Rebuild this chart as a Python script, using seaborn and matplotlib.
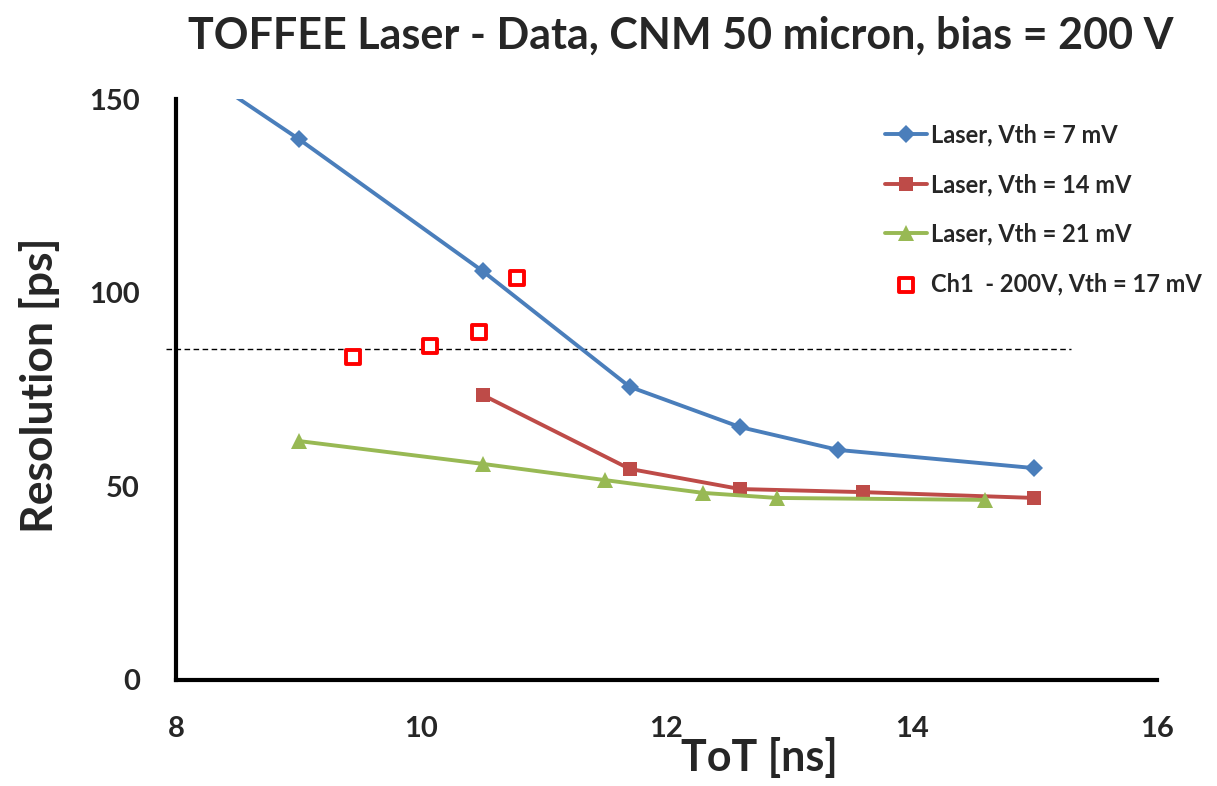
import matplotlib
matplotlib.use("Agg")
import matplotlib.pyplot as plt
import seaborn as sns

# Laser scans: time resolution vs time over threshold
tot_7mv = [8.0, 9.0, 10.5, 11.7, 12.6, 13.4, 15.0]
res_7mv = [161.0, 139.7, 105.6, 75.7, 65.3, 59.4, 54.7]

tot_14mv = [10.5, 11.7, 12.6, 13.6, 15.0]
res_14mv = [73.6, 54.5, 49.3, 48.5, 47.0]

tot_21mv = [9.0, 10.5, 11.5, 12.3, 12.9, 14.6]
res_21mv = [61.7, 55.8, 51.6, 48.3, 47.0, 46.5]

# Channel 1 measurement at 200 V
tot_ch1 = [9.44, 10.07, 10.47, 10.78]
res_ch1 = [83.4, 86.2, 89.9, 103.8]

# Reference resolution level
ref_level = 85.5
ref_span = [7.92, 15.3]

labels = ["Laser, Vth = 7 mV", "Laser, Vth = 14 mV", "Laser, Vth = 21 mV",
          "Ch1  - 200V, Vth = 17 mV"]
x_ticks = [8, 10, 12, 14, 16]
y_ticks = [0, 50, 100, 150]

sns.set_theme(style="white")
plt.rcParams["font.family"] = ["Lato", "DejaVu Sans"]
plt.rcParams["font.weight"] = "bold"

fig = plt.figure(figsize=(12.17, 7.86), dpi=100)
ax = fig.add_axes([0.1446, 0.1349, 0.8061, 0.7391])

blue, red, green = "#4a7ebb", "#be4b48", "#98b954"

sns.lineplot(x=tot_7mv, y=res_7mv, ax=ax, sort=False, color=blue, lw=2.8,
             marker="D", markersize=9, markeredgewidth=0, label=labels[0])
sns.lineplot(x=tot_14mv, y=res_14mv, ax=ax, sort=False, color=red, lw=2.8,
             marker="s", markersize=10, markeredgewidth=0, label=labels[1])
sns.lineplot(x=tot_21mv, y=res_21mv, ax=ax, sort=False, color=green, lw=2.8,
             marker="^", markersize=11, markeredgewidth=0, label=labels[2])
sns.scatterplot(x=tot_ch1, y=res_ch1, ax=ax, marker="s", s=115,
                facecolor="white", edgecolor="#ff0000", linewidth=2.8,
                label=labels[3], zorder=4)

ax.plot(ref_span, [ref_level, ref_level], color="black", lw=1.0,
        ls=(0, (4, 2.5)), zorder=1, clip_on=False)

ax.set_xlim(8, 16)
ax.set_ylim(0, 150)
ax.set_xticks(x_ticks)
ax.set_yticks(y_ticks)
ax.tick_params(axis="x", direction="in", length=10, width=2.5,
               labelsize=21, pad=26)
ax.tick_params(axis="y", direction="in", length=10, width=2.5,
               labelsize=21, pad=26)
for t in ax.get_xticklabels() + ax.get_yticklabels():
    t.set_fontweight("bold")

for side in ["top", "right"]:
    ax.spines[side].set_visible(False)
for side in ["left", "bottom"]:
    ax.spines[side].set_linewidth(3)
    ax.spines[side].set_color("black")

ax.set_xlabel("ToT [ns]", fontsize=31, fontweight="bold")
ax.xaxis.set_label_coords(0.595, -0.098)
ax.set_ylabel("Resolution [ps]", fontsize=32, fontweight="bold")
ax.yaxis.set_label_coords(-0.118, 0.508)

fig.text(0.559, 0.955, "TOFFEE Laser - Data, CNM 50 micron, bias = 200 V",
         fontsize=31, fontweight="bold", ha="center", va="center")

ax.legend(loc="upper left", bbox_to_anchor=(0.727, 0.843),
          bbox_transform=fig.transFigure, frameon=False,
          labelspacing=1.13, handlelength=1.8, handletextpad=0.15,
          borderpad=0, borderaxespad=0,
          prop={"weight": "bold", "size": 17})

fig.savefig("out.png", dpi=100)
